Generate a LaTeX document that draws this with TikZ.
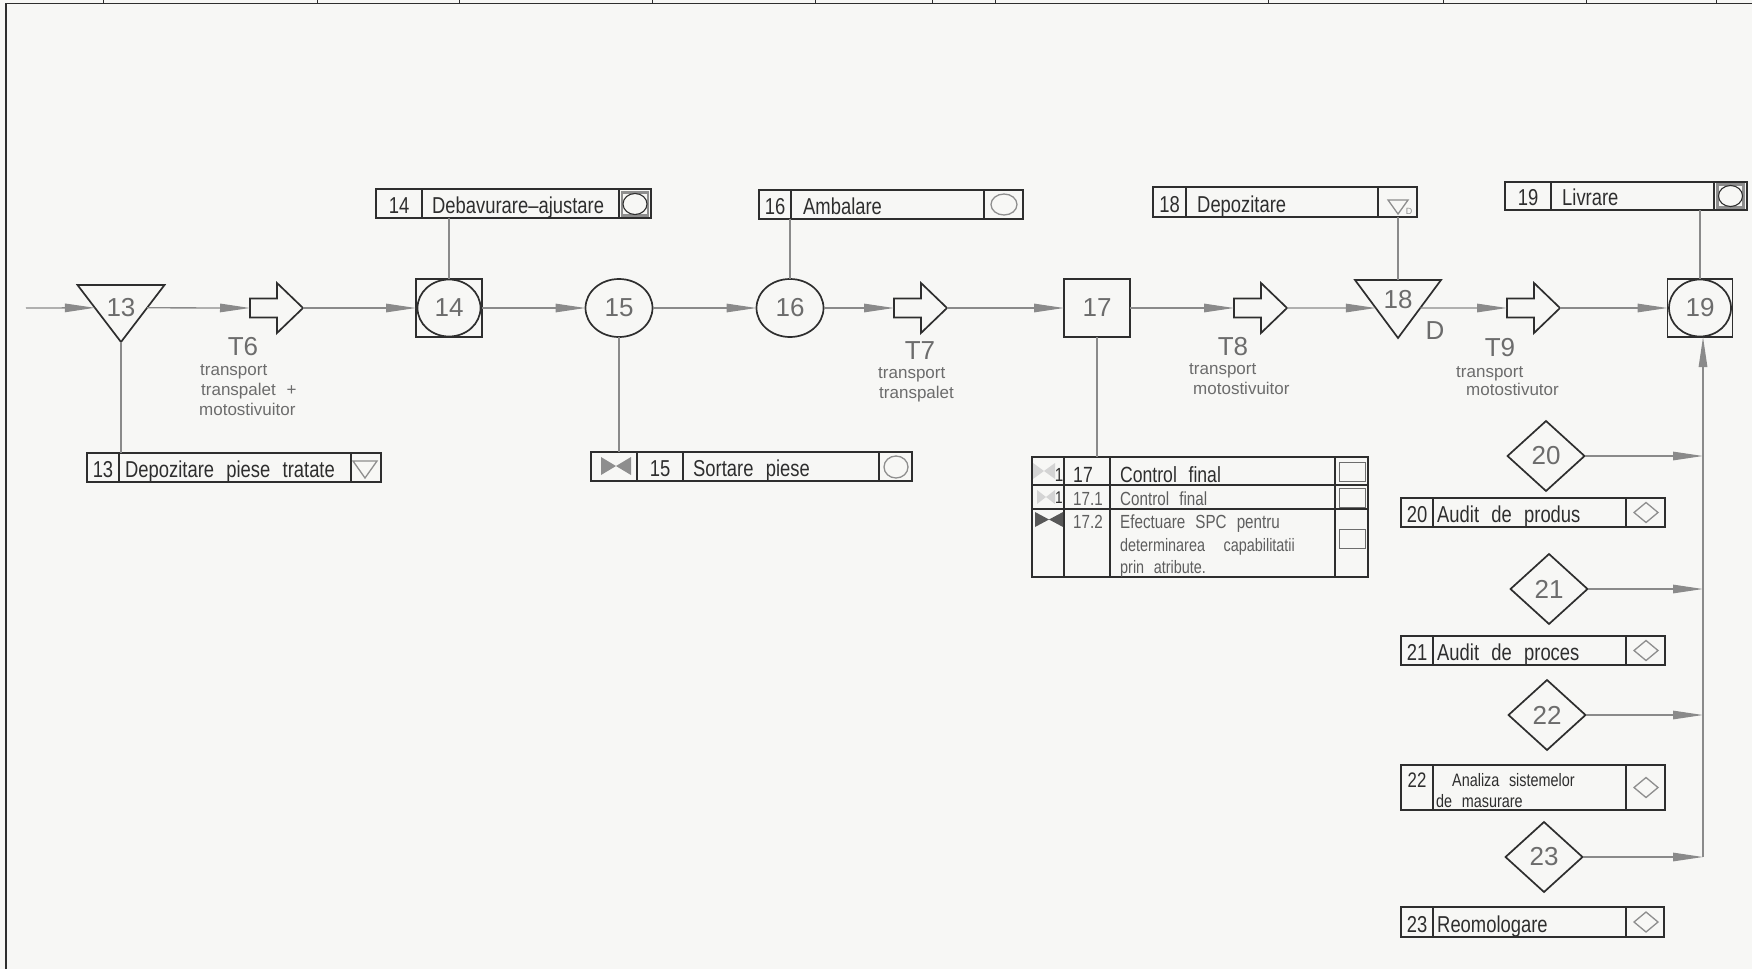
\documentclass[tikz,border=0pt]{standalone}
\usepackage{fontspec}
\setmainfont{Liberation Sans}
\newfontfamily\cad{Liberation Sans}[FakeStretch=0.8,WordSpace=2.4]
\usetikzlibrary{arrows.meta,shapes.geometric,calc}
\definecolor{ink}{HTML}{2E2E2E}
\definecolor{numgray}{HTML}{6C6C6C}
\definecolor{lgray}{HTML}{8A8A8A}
\definecolor{sgray}{HTML}{8E8E8E}
\definecolor{faint}{HTML}{D4D4D4}
\definecolor{paper}{HTML}{F7F7F5}
\definecolor{txtgray}{HTML}{5E5E5E}
\tikzset{
  shp/.style={draw=ink, line width=1.7pt, inner sep=0pt, outer sep=0pt},
  num/.style={text=numgray, font=\fontsize{26}{26}\selectfont},
  sqbox/.style={shp, rectangle, minimum width=66, minimum height=58, num},
  ovl/.style={shp, ellipse, minimum width=67, minimum height=58, num},
  dia/.style={shp, diamond, minimum width=77, minimum height=70, num},
  tribox/.style={inner sep=0pt, outer sep=0pt, minimum width=87, minimum height=57},
  link/.style={draw=lgray, line width=1.3pt},
  flow/.style={link, -{Triangle[length=30pt,width=8.5pt]}},
  lbox/.style={draw=ink, line width=1.3pt, inner sep=0pt, outer sep=0pt, anchor=north west},
  div/.style={draw=ink, line width=1.3pt},
  btxt/.style={text=ink, font=\cad\fontsize{23}{23}\selectfont, inner sep=0pt},
  tname/.style={text=numgray, font=\fontsize{26}{26}\selectfont, inner sep=0pt},
  tsub/.style={text=numgray, font=\fontsize{17}{17}\selectfont, inner sep=0pt, anchor=base west},
  sym/.style={draw=sgray, line width=1.3pt},
}
% label box: name, x1, y1, x2, y2, d1, d2, number
\newcommand\lbx[8]{%
  \node[lbox, minimum width=#4-#2, minimum height=#5-#3] (#1) at (#2,#3) {};
  \draw[div] (#6,#3) -- (#6,#5) (#7,#3) -- (#7,#5);
  \node[btxt, anchor=base] at ({(#2+#6)/2},#5-5) {#8};
}
% hollow transport arrow: name, left x
\newcommand\harrow[2]{%
  \node[inner sep=0pt, outer sep=0pt, minimum width=53, minimum height=50] (#1) at (#2+26.5,308) {};
  \draw[shp] (#2,298.5) -- (#2+27,298.5) -- (#2+27,283) -- (#2+53,308) -- (#2+27,333) -- (#2+27,317.5) -- (#2,317.5) -- cycle;
}
\newcommand\symdia[2]{\draw[sym] (#1-12,#2) -- (#1,#2-10) -- (#1+12,#2) -- (#1,#2+10) -- cycle;}
\newcommand\symsqc[2]{%
  \draw[draw=sgray, line width=2.2pt] (#1-13,#2-11.5) rectangle (#1+13,#2+11.5);
  \draw[draw=ink, line width=1.1pt] (#1,#2) ellipse (12 and 10.5);
}
\newcommand\btie[4]{% cx, cy, half width, half height
  \fill (#1-#3,#2-#4) -- (#1,#2) -- (#1-#3,#2+#4) -- cycle;
  \fill (#1+#3,#2-#4) -- (#1,#2) -- (#1+#3,#2+#4) -- cycle;
}
\begin{document}
\begin{tikzpicture}[x=1pt,y=-1pt]
\fill[paper] (0,0) rectangle (1752,969);
\useasboundingbox (0,0) rectangle (1752,969);

% sheet frame
\draw[ink, line width=1.5pt] (6,969) -- (6,3.5) -- (1752,3.5);
\foreach \tx in {103,317,459,652,815,932,995,1268,1443,1586,1716}
  \draw[ink, line width=1pt] (\tx,0) -- (\tx,3.5);

% ---------- main flow nodes ----------
\node[tribox] (n13) at (121,313.5) {};
\draw[shp] (n13.north west) -- (n13.north east) -- (n13.south) -- cycle;
\node[num, inner sep=0pt] (n13t) at (121,308) {13};

\harrow{t6}{250}

\node[sqbox] (n14) at (449,308) {14};
\draw[shp] (n14.center) ellipse (31.5 and 28.5);

\node[ovl] (n15) at (619,308) {15};
\node[ovl] (n16) at (790,308) {16};

\harrow{t7}{894}

\node[sqbox] (n17) at (1097,308) {17};

\harrow{t8}{1234}

\node[tribox, minimum width=86, minimum height=58] (n18) at (1398,309) {};
\draw[shp] (n18.north west) -- (n18.north east) -- (n18.south) -- cycle;
\node[num, inner sep=0pt] (n18t) at (1398,300) {18};

\harrow{t9}{1507}

\node[sqbox, minimum width=65] (n19) at (1700,308) {19};
\draw[shp] (n19.center) ellipse (31 and 28.5);

% ---------- transport labels ----------
\node[tname] (l6) at (243,347) {T6};
\node[tsub] at (200,375) {transport};
\node[tsub] at (201,395) {transpalet\hspace{6pt} +};
\node[tsub] at (199,415) {motostivuitor};

\node[tname] (l7) at (920,351) {T7};
\node[tsub] at (878,378) {transport};
\node[tsub] at (879,398) {transpalet};

\node[tname] (l8) at (1233,347) {T8};
\node[tsub] at (1189,374) {transport};
\node[tsub] at (1193,394) {motostivuitor};

\node[tname] (l9) at (1500,348) {T9};
\node[tsub] at (1456,377) {transport};
\node[tsub] at (1466,395) {motostivutor};

\node[tname] (ld) at (1435,331) {D};

% ---------- main connectors ----------
\coordinate (in13) at (26,308);
\draw[flow] (in13) -- ($(n13.north west)!0.4!(n13.south)$);
\draw[flow] ($(n13.north east)!0.4!(n13.south)$) -- (t6.west);
\draw[flow] (t6.east) -- (n14.west);
\draw[flow] (n14.east) -- (n15.west);
\draw[flow] (n15.east) -- (n16.west);
\draw[flow] (n16.east) -- (t7.west);
\draw[flow] (t7.east) -- (n17.west);
\draw[flow] (n17.east) -- (t8.west);
\draw[flow] (t8.east) -- ($(n18.north west)!0.483!(n18.south)$);
\draw[flow] ($(n18.north east)!0.483!(n18.south)$) -- (t9.west);
\draw[flow] (t9.east) -- (n19.west);

% ---------- label boxes ----------
% 13
\lbx{b13}{87}{453}{381}{482}{119}{351}{13}
\node[btxt, anchor=base west] at (125,477) {Depozitare piese tratate};
\draw[sym] (353,461) -- (377,461) -- (365,478) -- cycle;
% 14
\lbx{b14}{376}{189}{651}{218}{422}{619}{14}
\node[btxt, anchor=base west] at (432,213) {Debavurare–ajustare};
\symsqc{635}{204}
% 15
\node[lbox, minimum width=321, minimum height=29] (b15) at (591,452) {};
\draw[div] (637,452) -- (637,481) (683,452) -- (683,481) (879,452) -- (879,481);
\begin{scope}[fill=sgray]\btie{616}{466}{15}{9}\end{scope}
\node[btxt, anchor=base] at (660,476) {15};
\node[btxt, anchor=base west] at (693,476) {Sortare piese};
\draw[sym] (896,467) ellipse (12 and 11);
% 16
\lbx{b16}{759}{190}{1023}{219}{791}{984}{16}
\node[btxt, anchor=base west] at (803,214) {Ambalare};
\draw[sym] (1004,204.5) ellipse (13 and 10.5);
% 17
\node[lbox, minimum width=336, minimum height=120] (b17) at (1032,457) {};
\draw[div] (1032,485) -- (1368,485) (1032,509) -- (1368,509);
\draw[div] (1064,457) -- (1064,577) (1110,457) -- (1110,577) (1335,457) -- (1335,577);
\begin{scope}[fill=faint]\btie{1044}{471}{11}{8}\btie{1046}{497}{9}{7}\end{scope}
\begin{scope}[fill=ink!80]\btie{1049}{519.5}{14}{7.5}\end{scope}
\node[btxt, anchor=base, font=\cad\fontsize{19}{19}\selectfont] at (1059,481) {1};
\node[btxt, anchor=base, font=\cad\fontsize{17}{17}\selectfont] at (1059,503) {1};
\node[btxt, anchor=base west, font=\cad\fontsize{22}{22}\selectfont] at (1073,482) {17};
\node[btxt, anchor=base west, font=\cad\fontsize{22}{22}\selectfont] at (1120,482) {Control final};
\node[btxt, anchor=base west, text=txtgray, font=\cad\fontsize{19}{19}\selectfont] at (1073,505) {17.1};
\node[btxt, anchor=base west, text=txtgray, font=\cad\fontsize{19}{19}\selectfont] at (1120,505) {Control final};
\node[btxt, anchor=base west, text=txtgray, font=\cad\fontsize{19}{19}\selectfont] at (1073,528) {17.2};
\node[btxt, anchor=base west, text=txtgray, font=\cad\fontsize{19}{19}\selectfont] at (1120,528) {Efectuare SPC pentru};
\node[btxt, anchor=base west, text=txtgray, font=\cad\fontsize{18}{18}\selectfont] at (1120,551) {determinarea\hspace{9pt} capabilitatii};
\node[btxt, anchor=base west, text=txtgray, font=\cad\fontsize{18}{18}\selectfont] at (1120,573) {prin atribute.};
\draw[draw=ink!70, line width=1pt] (1339,462) rectangle (1365,481);
\draw[draw=ink!70, line width=1pt] (1339,488) rectangle (1365,507);
\draw[draw=ink!70, line width=1pt] (1339,529) rectangle (1365,548);
% 18
\lbx{b18}{1153}{187}{1417}{217}{1186}{1378}{18}
\node[btxt, anchor=base west] at (1197,212) {Depozitare};
\draw[sym] (1388,200) -- (1408,200) -- (1398,214) -- cycle;
\node[text=sgray, font=\fontsize{9}{9}\selectfont, inner sep=0pt] at (1409,211) {D};
% 19
\lbx{b19}{1505}{182}{1747}{210}{1551}{1714}{19}
\node[btxt, anchor=base west] at (1562,205) {Livrare};
\symsqc{1730.5}{196}
% 20-23
\lbx{b20}{1401}{498}{1665}{527}{1433}{1626}{20}
\node[btxt, anchor=base west] at (1437,522) {Audit de produs};
\symdia{1646}{512.5}
\lbx{b21}{1401}{636}{1665}{665}{1433}{1626}{21}
\node[btxt, anchor=base west] at (1437,660) {Audit de proces};
\symdia{1646}{650.5}
\node[lbox, minimum width=264, minimum height=45] (b22) at (1401,765) {};
\draw[div] (1433,765) -- (1433,810) (1626,765) -- (1626,810);
\node[btxt, anchor=base, font=\cad\fontsize{21}{21}\selectfont] at (1417,787) {22};
\node[btxt, anchor=base west, font=\cad\fontsize{18}{18}\selectfont] at (1452,786) {Analiza sistemelor};
\node[btxt, anchor=base west, font=\cad\fontsize{18}{18}\selectfont] at (1436,807) {de masurare};
\symdia{1646}{787.5}
\lbx{b23}{1401}{907}{1664}{937}{1433}{1626}{23}
\node[btxt, anchor=base west] at (1437,932) {Reomologare};
\symdia{1646}{922}

% ---------- vertical links ----------
\draw[link] (n13.south) -- (n13.south |- b13.north);
\draw[link] (b14.south -| n14) -- (n14.north);
\draw[link] (n15.south) -- (n15.south |- b15.north);
\draw[link] (b16.south -| n16) -- (n16.north);
\draw[link] (n17.south) -- (n17.south |- b17.north);
\draw[link] (b18.south -| n18) -- (n18.north);
\draw[link] (b19.south -| n19) -- (n19.north);

% ---------- audit diamonds ----------
\node[dia] (d20) at (1546,456) {20};
\node[dia] (d21) at (1549,589) {21};
\node[dia] (d22) at (1547,715) {22};
\node[dia] (d23) at (1544,857) {23};
\coordinate (riser) at (1703,857);
\draw[flow] (riser) -- (riser |- n19.south);
\draw[flow] (d20.east) -- (d20.east -| riser);
\draw[flow] (d21.east) -- (d21.east -| riser);
\draw[flow] (d22.east) -- (d22.east -| riser);
\draw[flow] (d23.east) -- (riser);
\end{tikzpicture}
\end{document}
